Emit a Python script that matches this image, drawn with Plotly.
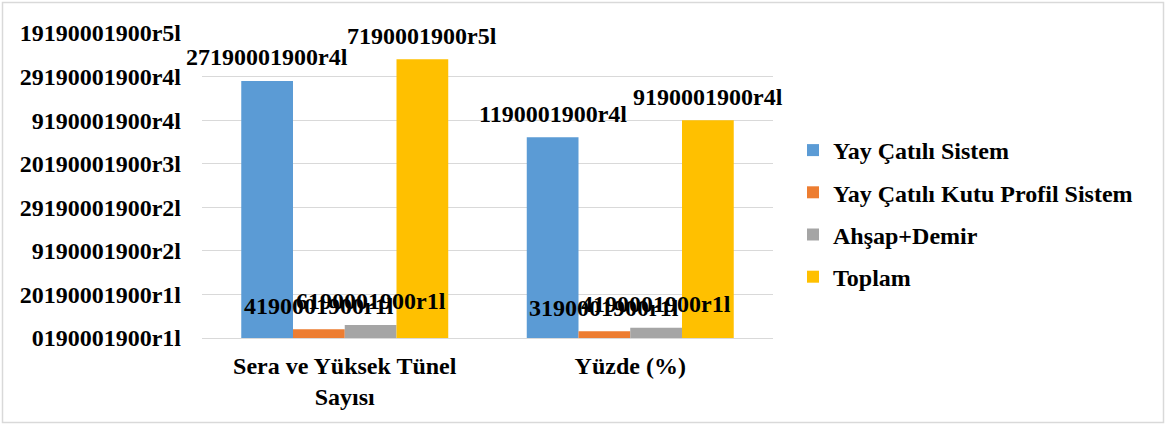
import plotly.graph_objects as go

# Categories and series
categories = ["Sera ve Yüksek Tünel Sayısı", "Yüzde (%)"]
category_ticks = ["Sera ve Yüksek Tünel<br>Sayısı", "Yüzde (%)"]
series_names = ["Yay Çatılı Sistem", "Yay Çatılı Kutu Profil Sistem", "Ahşap+Demir", "Toplam"]
yay_catili = [118, 92.19]
kutu_profil = [4, 3.13]
ahsap_demir = [6, 4.69]
toplam = [128, 100]

# Data labels shown above each bar
yay_labels = ["27190001900r4l", "1190001900r4l"]
kutu_labels = ["4190001900r1l", "3190001900r1l"]
ahsap_labels = ["6190001900r1l", "4190001900r1l"]
toplam_labels = ["7190001900r5l", "9190001900r4l"]

# Y axis ticks
tick_values = [0, 20, 40, 60, 80, 100, 120, 140]
tick_labels = ["0190001900r1l", "20190001900r1l", "9190001900r2l", "29190001900r2l",
               "20190001900r3l", "9190001900r4l", "29190001900r4l", "19190001900r5l"]

colors = ["#5B9BD5", "#ED7D31", "#A5A5A5", "#FFC000"]
values = [yay_catili, kutu_profil, ahsap_demir, toplam]
labels = [yay_labels, kutu_labels, ahsap_labels, toplam_labels]


def bold(s):
    return "<b>" + s + "</b>"


FONT = "Liberation Serif"
W, H = 1166, 425
ML, MR, MT, MB = 202, 393, 33, 87
BARGAP = 0.275
plot_w = W - ML - MR
plot_h = H - MT - MB

fig = go.Figure()
for name, vals, col in zip(series_names, values, colors):
    fig.add_trace(go.Bar(
        x=categories, y=vals, name=bold(name), marker=dict(color=col, line=dict(width=0)),
        legendgroup=name,
    ))

# Label placement: offset of each bar inside its category group
n = len(series_names)
band = plot_w / len(categories)
bar_px = band * (1 - BARGAP) / n
annotations = []
for i, (vals, labs) in enumerate(zip(values, labels)):
    for cat, v, lab in zip(categories, vals, labs):
        annotations.append(dict(
            x=cat, y=v, xref="x", yref="y", text=bold(lab), showarrow=False,
            xshift=(i - (n - 1) / 2) * bar_px, yshift=23.5, yanchor="middle",
            font=dict(family=FONT, size=24, color="#000000"),
        ))

# Light outer frame around the whole chart
frame = dict(
    type="rect", xref="paper", yref="paper",
    x0=(2.5 - ML) / plot_w, x1=(W - 2.5 - ML) / plot_w,
    y0=(H - MB - (H - 2.5)) / plot_h, y1=(H - MB - 2.5) / plot_h,
    line=dict(color="#D9D9D9", width=1.5), fillcolor="rgba(0,0,0,0)", layer="below",
)

fig.update_layout(
    width=W, height=H,
    margin=dict(l=ML, r=MR, t=MT, b=MB, pad=0),
    paper_bgcolor="white", plot_bgcolor="white",
    barmode="group", bargap=BARGAP, bargroupgap=0,
    font=dict(family=FONT, size=24, color="#000000"),
    showlegend=True,
    legend=dict(
        x=(793 - ML) / plot_w, xanchor="left", y=(H - MB - 213.5) / plot_h, yanchor="middle",
        font=dict(family=FONT, size=24, color="#000000"),
        bgcolor="rgba(0,0,0,0)", tracegroupgap=8, itemwidth=30,
    ),
    annotations=annotations,
    shapes=[frame],
)
fig.update_yaxes(
    range=[0, 140], tickvals=tick_values, ticktext=[bold(t) for t in tick_labels],
    showgrid=True, gridcolor="#D9D9D9", gridwidth=1, zeroline=False,
    showline=False, ticks="", ticklabelstandoff=20,
    tickfont=dict(family=FONT, size=24, color="#000000"),
)
fig.update_xaxes(
    range=[-0.5, len(categories) - 0.5], autorange=False,
    tickvals=categories, ticktext=[bold(t) for t in category_ticks],
    showline=True, linecolor="#D9D9D9", linewidth=1, ticks="", showgrid=False,
    ticklabelstandoff=6,
    tickfont=dict(family=FONT, size=24, color="#000000"),
)

fig.write_html("out.html")
